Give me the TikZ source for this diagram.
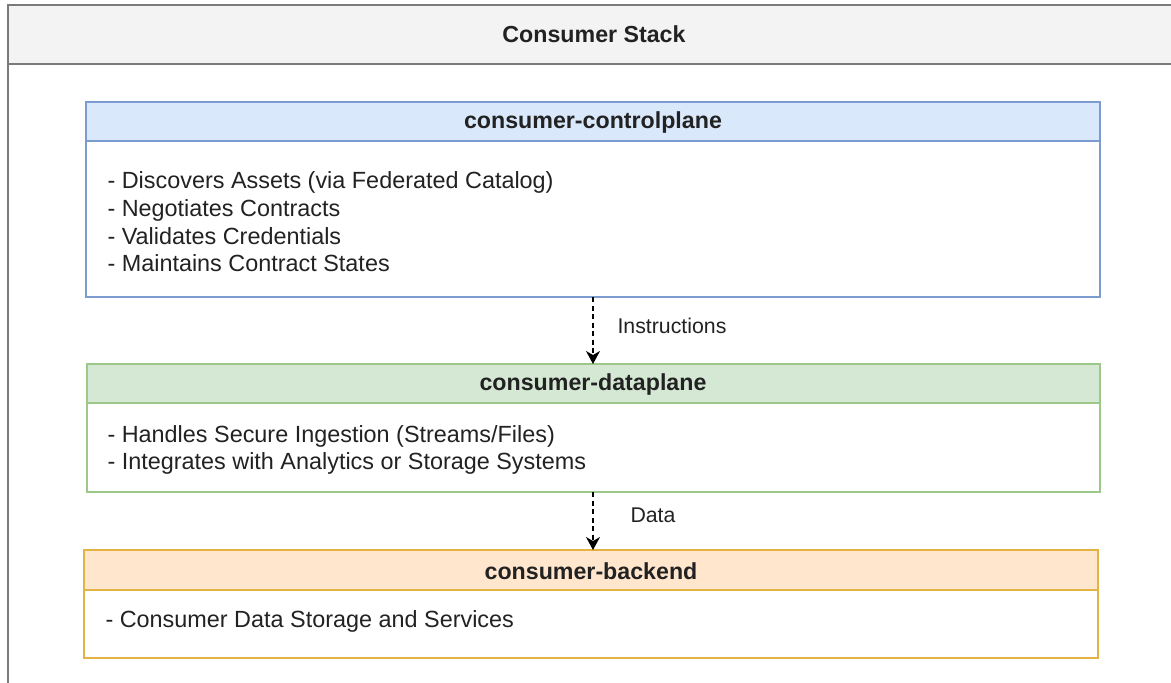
\documentclass[tikz,border=0pt]{standalone}
\usepackage{fontspec}
\setmainfont{Liberation Sans}
\usetikzlibrary{arrows.meta}
\definecolor{outerline}{HTML}{7A7A7A}
\definecolor{headgray}{HTML}{F3F3F3}
\definecolor{blueline}{HTML}{7C9CCF}
\definecolor{bluefill}{HTML}{DAE8FC}
\definecolor{greenline}{HTML}{9CC98A}
\definecolor{greenfill}{HTML}{D5E8D4}
\definecolor{orangeline}{HTML}{E3B443}
\definecolor{orangefill}{HTML}{FFE6CC}
\definecolor{txt}{HTML}{222222}
\tikzset{
  box/.style={line width=1.6pt},
  head/.style={font=\fontsize{23.2}{27}\selectfont\bfseries, text=txt},
  body/.style={font=\fontsize{23.4}{27.7}\selectfont, text=txt, align=left, anchor=west},
  flow/.style={dash pattern=on 5pt off 3.5pt, line width=1.3pt, -{Stealth[length=13pt,width=14pt,inset=4pt]}},
  lbl/.style={font=\fontsize{21.3}{24}\selectfont, text=txt}
}
\begin{document}
\begin{tikzpicture}[x=1pt,y=-1pt]
\useasboundingbox (0,0) rectangle (1171,683);
\begin{scope}
\clip (0,0) rectangle (1171,683);
% outer stack container
\draw[outerline, fill=headgray, line width=1.8pt] (8,5) rectangle (1190,64);
\draw[outerline, line width=1.8pt] (8,64) rectangle (1190,700);
\node[head] (stack) at (594,34) {Consumer Stack};
\end{scope}

% control plane
\draw[blueline, fill=bluefill, box] (86,102) rectangle (1100,141);
\draw[blueline, fill=white, box] (86,141) rectangle (1100,297);
\node[head] (cp) at (593,122) {consumer-controlplane};
\node[body] (cptext) at (104,222) {- Discovers Assets (via Federated Catalog)\\- Negotiates Contracts\\- Validates Credentials\\- Maintains Contract States};
\coordinate (cpbot) at (593,297);

% data plane
\draw[greenline, fill=greenfill, box] (87,364) rectangle (1100,403);
\draw[greenline, fill=white, box] (87,403) rectangle (1100,492);
\node[head] (dp) at (593,384) {consumer-dataplane};
\node[body] (dptext) at (104,450) {- Handles Secure Ingestion (Streams/Files)\\- Integrates with Analytics or Storage Systems};
\coordinate (dptop) at (593,364);
\coordinate (dpbot) at (593,492);

% backend
\draw[orangeline, fill=orangefill, box] (84,550) rectangle (1098,590);
\draw[orangeline, fill=white, box] (84,590) rectangle (1098,658);
\node[head] (be) at (591,571) {consumer-backend};
\node[body] (betext) at (102,621) {- Consumer Data Storage and Services};
\coordinate (betop) at (593,550);

% connectors
\draw[flow] (cpbot) -- (dptop);
\node[lbl] (l1) at (672,326) {Instructions};
\draw[flow] (dpbot) -- (betop);
\node[lbl] (l2) at (653,515) {Data};
\end{tikzpicture}
\end{document}
